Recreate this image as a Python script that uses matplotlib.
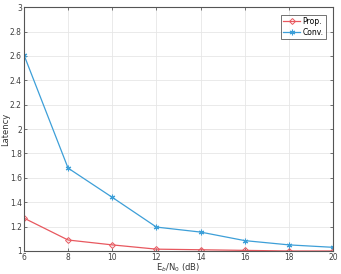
import matplotlib
matplotlib.use('Agg')
import matplotlib.pyplot as plt

# Eb/N0 sweep and latency of both schemes
snr = [6, 8, 10, 12, 14, 16, 18, 20]
lat_prop = [1.27, 1.09, 1.05, 1.015, 1.01, 1.005, 1.0, 1.0]
lat_conv = [2.61, 1.68, 1.44, 1.196, 1.155, 1.085, 1.05, 1.03]

yticks = [1, 1.2, 1.4, 1.6, 1.8, 2, 2.2, 2.4, 2.6, 2.8, 3]
ylabels = ['1', '1.2', '1.4', '1.6', '1.8', '2', '2.2', '2.4', '2.6', '2.8', '3']

fig = plt.figure(figsize=(3.41, 2.74), dpi=100)
ax = fig.add_axes([0.070, 0.084, 0.907, 0.890])

ax.plot(snr, lat_prop, color='#e8585f', marker='D', markersize=3,
        markerfacecolor='none', markeredgewidth=0.7, linewidth=0.9,
        label='Prop.')
ax.plot(snr, lat_conv, color='#3d9fd8', marker=(6, 2, 0), markersize=4,
        markeredgewidth=0.8, linewidth=0.9, label='Conv.')

ax.set_xlim(6, 20)
ax.set_ylim(1, 3)
ax.set_xticks(snr)
ax.set_yticks(yticks)
ax.set_yticklabels(ylabels)
ax.grid(True, color='#e6e6e6', linewidth=0.6)
ax.set_axisbelow(True)
ax.tick_params(labelsize=5.5, colors='#404040', length=2.5, width=0.5,
               direction='in', top=True, right=True, pad=1.5)
for s in ax.spines.values():
    s.set_color('#555555')
    s.set_linewidth(0.8)

ax.set_xlabel('E$_b$/N$_0$ (dB)', fontsize=6, color='#333333', labelpad=-0.5)
ax.set_ylabel('Latency', fontsize=6, color='#333333', labelpad=0)

leg = ax.legend(loc='upper right', fontsize=5.5, frameon=True, fancybox=False,
                edgecolor='#333333', handlelength=2.2, borderpad=0.3,
                labelspacing=0.2, handletextpad=0.3, borderaxespad=1.0)
leg.get_frame().set_linewidth(0.6)

fig.savefig('out.png', dpi=100)
